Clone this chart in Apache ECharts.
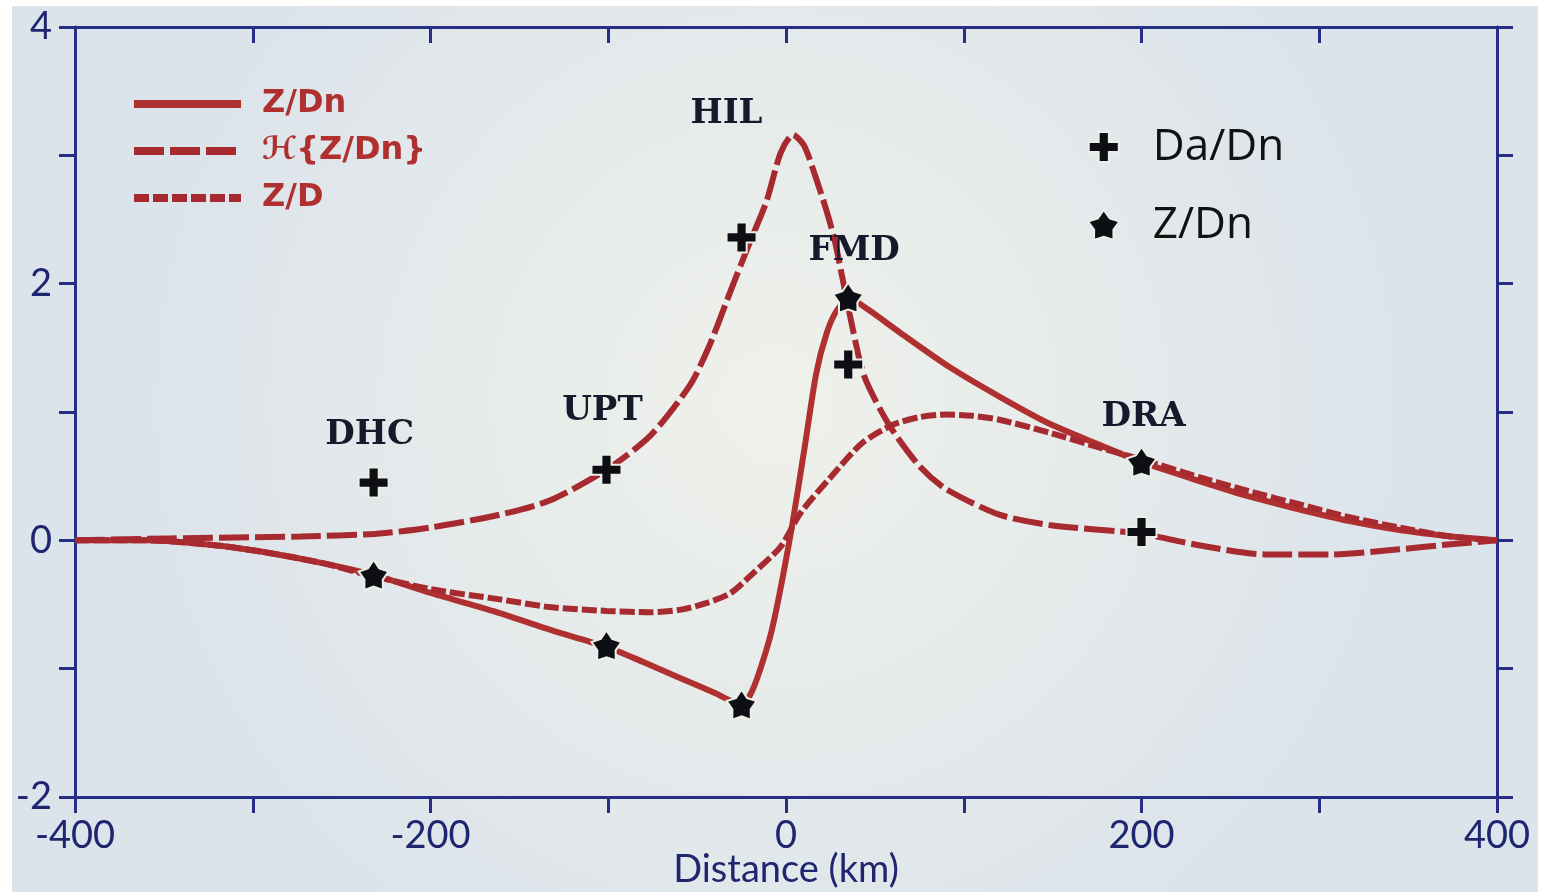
<!DOCTYPE html>
<html><head><meta charset="utf-8">
<script src="https://cdn.jsdelivr.net/npm/echarts@6/dist/echarts.min.js"></script>
<style>
html,body{margin:0;padding:0;background:#fff;width:1541px;height:892px;overflow:hidden}
#c{position:absolute;left:12px;top:6px;width:1526px;height:886px}
</style></head><body><div id="c"></div>
<script>
// ---- data ----
const zdnCurve = [[-400,0],[-360,0],[-320,-0.04],[-290,-0.1],[-260,-0.18],[-232,-0.27],[-200,-0.41],[-165,-0.55],[-130,-0.71],[-101,-0.83],[-80,-0.95],[-60,-1.07],[-40,-1.19],[-25,-1.28],[-18,-1.14],[-8,-0.7],[2,0.0],[10,0.68],[17,1.3],[23,1.62],[29,1.8],[36,1.88],[46,1.8],[64,1.62],[92,1.35],[120,1.12],[148,0.91],[177,0.74],[200,0.61],[233,0.46],[261,0.34],[289,0.24],[317,0.15],[345,0.08],[374,0.03],[400,0]];
const hilbertCurve = [[-400,0],[-347,0.015],[-273,0.03],[-231,0.05],[-200,0.1],[-161,0.2],[-133,0.31],[-101,0.55],[-76,0.82],[-54,1.21],[-43,1.52],[-31,1.95],[-21,2.3],[-11,2.64],[-3,3.02],[4,3.16],[10,3.08],[15,2.9],[23,2.56],[28,2.3],[36,1.75],[44,1.28],[58,0.9],[75,0.58],[90,0.4],[120,0.2],[148,0.12],[200,0.05],[233,-0.04],[270,-0.11],[306,-0.11],[345,-0.07],[374,-0.03],[400,0]];
const zdCurve = [[-400,0],[-360,0],[-320,-0.04],[-290,-0.1],[-260,-0.18],[-232,-0.28],[-200,-0.38],[-161,-0.46],[-133,-0.52],[-101,-0.55],[-76,-0.56],[-59,-0.54],[-45,-0.49],[-31,-0.41],[-18,-0.25],[-3,-0.05],[8,0.21],[25,0.49],[43,0.76],[60,0.9],[75,0.96],[90,0.98],[105,0.97],[120,0.94],[148,0.84],[177,0.72],[200,0.63],[233,0.49],[261,0.38],[289,0.28],[317,0.18],[345,0.1],[374,0.03],[400,0]];
const stationNames = ['DHC','UPT','HIL','FMD','DRA'];
const stationX = [-232,-101,-25,35,200];
const daDnObs = [0.45,0.55,2.36,1.37,0.065];
const zDnObs = [-0.27,-0.82,-1.28,1.89,0.61];
const seriesNames = ['Z/Dn','ℋ{Z/Dn}','Z/D'];
const obsNames = ['Da/Dn','Z/Dn'];

// ---- styles ----
const NAVY = '#262e86', LABEL = '#1f2670', RED = '#b0302f', RED2 = '#a72a30', PAPER = '#eceee8';
const labelOffsets = [[-3,-46],[-3,-58],[-14,-122],[7,-112],[3,-114]];
const plusPath = 'path://M-3.4,-10H3.4V-3.4H10V3.4H3.4V10H-3.4V3.4H-10V-3.4H-3.4Z';
const starPath = 'path://M0,-10L3.6,-4.9L9.51,-3.09L5.8,1.9L5.88,8.09L0,6.1L-5.88,8.09L-5.8,1.9L-9.51,-3.09L-3.6,-4.9Z';

const chart = echarts.init(document.getElementById('c'), null, {renderer:'canvas'});
const axisLine = {show:true, onZero:false, lineStyle:{color:NAVY, width:3}};
const tick = (inside) => ({show:true, inside:inside, length:16, lineStyle:{color:NAVY, width:3}});
const labelFont = {fontFamily:'Lato', fontSize:38, color:LABEL};
const lineCommon = {type:'line', showSymbol:false, symbol:'none', smooth:0.25, z:3};

chart.setOption({
  backgroundColor:{type:'radial', x:0.5, y:0.45, r:0.75, colorStops:[{offset:0,color:'#eff1ea'},{offset:1,color:'#dbe3eb'}]},
  animation:false,
  grid:{left:63, right:41, top:21, bottom:95, containLabel:false, outerBoundsMode:'none'},
  xAxis:[
    {type:'value', position:'bottom', min:-400, max:400, interval:100, axisLine, axisTick:tick(false), splitLine:{show:false},
     axisLabel:Object.assign({margin:20, formatter:v => (v % 200 === 0 ? String(v) : '')}, labelFont),
     name:'Distance (km)', nameLocation:'middle', nameGap:73, nameMoveOverlap:false,
     nameTextStyle:{fontFamily:'Lato', fontSize:38, color:LABEL, verticalAlign:'middle'}},
    {type:'value', position:'top', min:-400, max:400, interval:100, axisLine, axisTick:tick(true), splitLine:{show:false}, axisLabel:{show:false}}
  ],
  yAxis:[
    {type:'value', position:'left', min:-2, max:4, interval:1, axisLine, axisTick:tick(false), splitLine:{show:false},
     axisLabel:Object.assign({margin:23, formatter:v => (v % 2 === 0 ? String(v) : '')}, labelFont)},
    {type:'value', position:'right', min:-2, max:4, interval:1, axisLine, axisTick:tick(false), splitLine:{show:false}, axisLabel:{show:false}}
  ],
  legend:[
    {data:seriesNames, orient:'vertical', left:118, top:81, padding:0, itemWidth:107, itemHeight:20, itemGap:13, selectedMode:false,
     lineStyle:{width:8}, itemStyle:{opacity:0},
     textStyle:{color:RED, fontFamily:'DejaVu Sans', fontWeight:'bold', fontSize:32, lineHeight:34, padding:[0,0,0,16]}},
    {data:['Da/Dn','Z/Dn obs'], orient:'vertical', left:1075, top:119, padding:0, itemWidth:88, itemHeight:30, itemGap:34, selectedMode:false,
     formatter:n => (n === 'Z/Dn obs' ? obsNames[1] : n),
     textStyle:{color:'#111', fontFamily:'Open Sans', fontSize:44, lineHeight:44}}
  ],
  series:[
    Object.assign({name:seriesNames[0], data:zdnCurve, lineStyle:{color:RED, width:6, type:'solid'}, itemStyle:{color:RED}}, lineCommon),
    Object.assign({name:seriesNames[1], data:hilbertCurve, lineStyle:{color:RED2, width:6, type:[30,6], cap:'butt'}, itemStyle:{color:RED2}}, lineCommon),
    Object.assign({name:seriesNames[2], data:zdCurve, lineStyle:{color:RED2, width:6, type:[15,4], cap:'butt'}, itemStyle:{color:RED2}}, lineCommon),
    {name:obsNames[0], type:'scatter', symbol:plusPath, symbolSize:30, z:5,
     itemStyle:{color:'#0d0f14', borderColor:PAPER, borderWidth:2, opacity:1},
     data:stationX.map((x,i) => ({value:[x, daDnObs[i]],
       label:{show:true, formatter:stationNames[i], position:[15,15], align:'center', verticalAlign:'middle', offset:labelOffsets[i],
         textBorderWidth:0, fontFamily:'DejaVu Serif', fontWeight:'bold', fontSize:34, color:'#141a2c'}}))},
    {name:'Z/Dn obs', type:'scatter', symbol:starPath, symbolSize:30, z:5,
     itemStyle:{color:'#0d0f14', borderColor:PAPER, borderWidth:2, opacity:1},
     data:stationX.map((x,i) => [x, zDnObs[i]])}
  ]
});
</script></body></html>
